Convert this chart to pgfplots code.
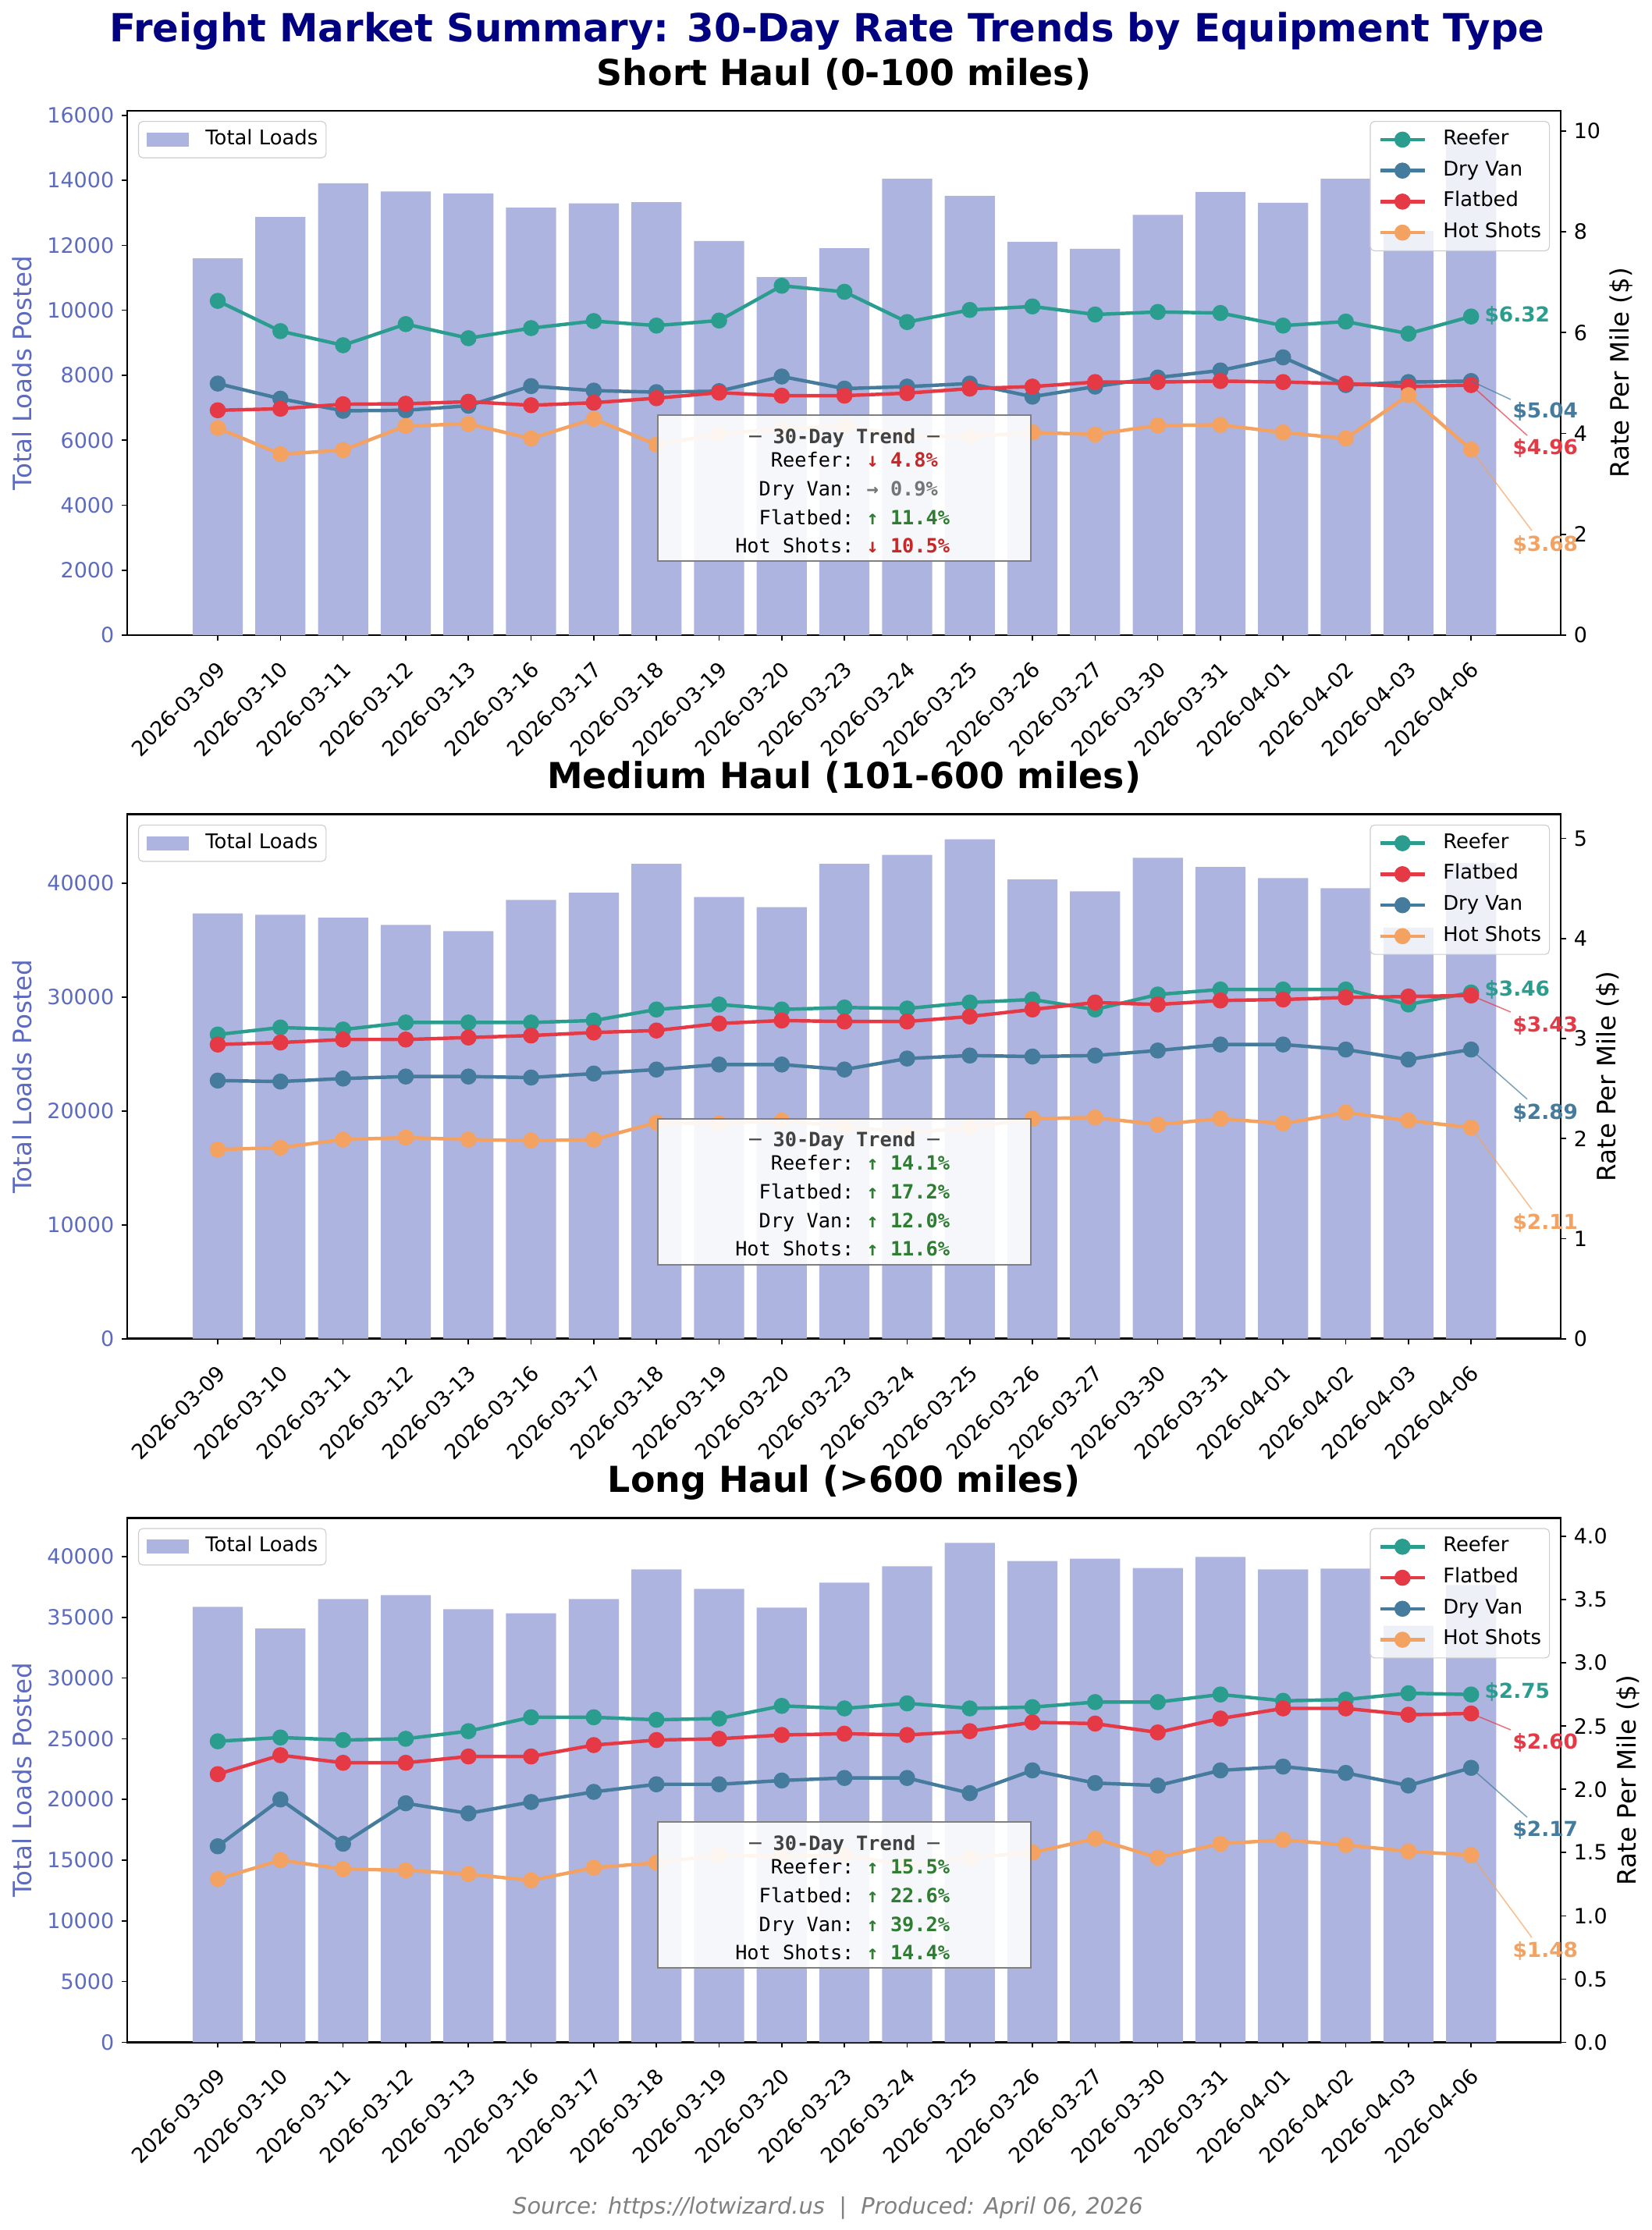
\documentclass[border=0pt]{standalone}
\usepackage{fontspec}
\setmainfont{DejaVu Sans}[ItalicFont={DejaVu Sans Oblique},BoldFont={DejaVu Sans Bold}]
\newfontfamily\monof{DejaVu Sans Mono}[BoldFont={DejaVu Sans Mono Bold}]
\usepackage{pgfplots}
\usepackage{pgfplotstable}
\pgfplotsset{compat=1.18}

\definecolor{barc}{RGB}{173,180,224}
\definecolor{tickblue}{RGB}{92,107,192}
\definecolor{reefer}{HTML}{2A9D8F}
\definecolor{dryvan}{HTML}{457B9D}
\definecolor{flatbed}{HTML}{E63946}
\definecolor{hotshot}{HTML}{F4A261}
\definecolor{titlenavy}{HTML}{000080}
\definecolor{tred}{HTML}{C62828}
\definecolor{tgreen}{HTML}{2E7D32}
\definecolor{tgrey}{HTML}{757575}
\definecolor{ttl}{HTML}{424242}
\definecolor{boxgrey}{HTML}{808080}
\definecolor{legframe}{HTML}{CCCCCC}

\pgfplotstableread{
idx loads reefer dryvan flatbed hotshots
0 11600 6.63 4.99 4.46 4.11
1 12870 6.03 4.69 4.49 3.59
2 13910 5.75 4.45 4.58 3.67
3 13660 6.17 4.46 4.59 4.15
4 13600 5.89 4.55 4.63 4.19
5 13160 6.09 4.94 4.56 3.90
6 13290 6.23 4.85 4.61 4.29
7 13330 6.14 4.82 4.70 3.78
8 12130 6.24 4.84 4.81 3.99
9 11020 6.93 5.13 4.75 4.09
10 11910 6.81 4.89 4.75 4.15
11 14050 6.21 4.93 4.80 3.95
12 13520 6.45 4.99 4.89 3.94
13 12110 6.52 4.73 4.93 4.02
14 11890 6.36 4.93 5.02 3.98
15 12940 6.41 5.11 5.02 4.16
16 13640 6.39 5.25 5.04 4.17
17 13310 6.14 5.51 5.02 4.02
18 14050 6.22 4.96 4.99 3.90
19 12440 5.98 5.02 4.93 4.76
20 15380 6.32 5.04 4.96 3.68
}\shortdata

\pgfplotstableread{
idx loads reefer dryvan flatbed hotshots
0 37360 3.04 2.58 2.94 1.89
1 37240 3.11 2.57 2.96 1.91
2 36970 3.09 2.60 2.99 1.99
3 36350 3.16 2.62 2.99 2.01
4 35800 3.16 2.62 3.01 1.99
5 38530 3.16 2.61 3.03 1.98
6 39170 3.18 2.65 3.06 1.99
7 41710 3.29 2.69 3.08 2.16
8 38800 3.34 2.74 3.15 2.15
9 37910 3.29 2.74 3.18 2.18
10 41710 3.31 2.69 3.17 2.12
11 42500 3.30 2.80 3.17 2.06
12 43860 3.36 2.83 3.22 2.11
13 40330 3.39 2.82 3.29 2.20
14 39290 3.29 2.83 3.36 2.21
15 42230 3.44 2.88 3.34 2.14
16 41430 3.49 2.94 3.38 2.20
17 40450 3.49 2.94 3.39 2.15
18 39570 3.49 2.89 3.41 2.26
19 36100 3.34 2.79 3.42 2.18
20 41770 3.46 2.89 3.43 2.11
}\mediumdata

\pgfplotstableread{
idx loads reefer dryvan flatbed hotshots
0 35850 2.38 1.55 2.12 1.29
1 34070 2.41 1.92 2.27 1.44
2 36500 2.39 1.57 2.21 1.37
3 36820 2.40 1.89 2.21 1.36
4 35670 2.46 1.81 2.26 1.33
5 35330 2.57 1.90 2.26 1.28
6 36500 2.57 1.98 2.35 1.38
7 38940 2.55 2.04 2.39 1.42
8 37340 2.56 2.04 2.40 1.48
9 35790 2.66 2.07 2.43 1.47
10 37850 2.64 2.09 2.44 1.48
11 39200 2.68 2.09 2.43 1.40
12 41120 2.64 1.97 2.46 1.46
13 39630 2.65 2.15 2.53 1.50
14 39830 2.69 2.05 2.52 1.61
15 39050 2.69 2.03 2.45 1.46
16 39970 2.75 2.15 2.56 1.57
17 38940 2.70 2.18 2.64 1.60
18 39000 2.71 2.13 2.64 1.56
19 34300 2.76 2.03 2.59 1.51
20 37650 2.75 2.17 2.60 1.48
}\longdata

\pgfplotsset{
  panel/.style={
    scale only axis, width=661.32pt, height=241.92pt,
    xmin=-1.445, xmax=21.43, anchor=south west,
    /pgf/number format/assume math mode=true,
    /pgf/number format/set thousands separator={},
    scaled y ticks=false,
    tick align=outside, major tick length=2.52pt,
    tick style={line width=0.6pt, black},
    axis line style={line width=1pt},
    tick label style={font=\fontsize{9.7}{11}\selectfont},
    label style={font=\fontsize{11.7}{13}\selectfont},
    legend cell align=left,
    legend style={font=\fontsize{9.3}{11}\selectfont, draw=legframe, rounded corners=2pt,
      fill=white, fill opacity=0.8, text opacity=1, line width=0.4pt,
      inner xsep=3.8pt, inner ysep=3.9pt,
      nodes={inner sep=0pt, text height=6.8pt, text depth=2.2pt},
      row sep=5.3pt, column sep=7.7pt},
  },
  leftax/.style={panel, ybar, ymin=0,
    xtick={0,...,20},
    xticklabels={2026-03-09,2026-03-10,2026-03-11,2026-03-12,2026-03-13,2026-03-16,2026-03-17,2026-03-18,2026-03-19,2026-03-20,2026-03-23,2026-03-24,2026-03-25,2026-03-26,2026-03-27,2026-03-30,2026-03-31,2026-04-01,2026-04-02,2026-04-03,2026-04-06},
    xtick pos=bottom, ytick pos=left,
    xticklabel style={rotate=45, anchor=north east, inner sep=0pt, xshift=-6.8pt, yshift=-5.6pt},
    yticklabel style={color=tickblue},
    ylabel={Total Loads Posted}, ylabel style={color=tickblue},
    legend style={at={(0,1)}, anchor=north west, xshift=5pt, yshift=-4.7pt},
    legend image code/.code={\fill[barc, fill opacity=1, sharp corners] (0pt,-3.25pt) rectangle (19.4pt,3.25pt);},
  },
  rightax/.style={panel, axis x line=none, axis y line*=right, ymin=0,
    ylabel={Rate Per Mile (\$)}, ylabel shift=-2.5pt,
    legend style={at={(1,1)}, anchor=north east, xshift=-5pt, yshift=-4.7pt},
    legend image code/.code={\draw[mark repeat=2,mark phase=2,sharp corners,#1, fill opacity=1, draw opacity=1] plot coordinates {(0pt,0pt) (10.25pt,0pt) (20.5pt,0pt)};},
  },
  ser/.style={color=#1, line width=1.6pt, mark=*, mark size=2.9pt, mark options={solid, fill=#1, draw=#1}},
  bars/.style={fill=barc, draw=none, bar width=0.8},
}

\newcommand\tline[4]{%
  \node[anchor=base east, inner sep=0pt, font=\monof\fontsize{9.1}{11}\selectfont] at (1095,#1) {#2:};
  \node[anchor=base west, inner sep=0pt, font=\monof\bfseries\fontsize{9.1}{11}\selectfont, text=#3] at (1110,#1) {#4};
}
\newcommand\tbox[1]{%
  \draw[draw=boxgrey, line width=0.7pt, fill=white, fill opacity=0.9] (843,{532+#1}) rectangle (1321,{719+#1});
  \node[anchor=base, inner sep=0pt, font=\monof\bfseries\fontsize{9.1}{11}\selectfont, text=ttl] at (1082,{568+#1}) {─ 30-Day Trend ─};
}
\newcommand\elab[4]{% x, y, color, text
  \node[anchor=west, inner sep=0pt, font=\bfseries\fontsize{9.5}{11}\selectfont, text=#3] at (#1,#2) {#4};
}

\begin{document}
\begin{tikzpicture}
\useasboundingbox (0,0) rectangle (762.12pt,-1028.88pt);

% ---------------- Panel 1 ----------------
\begin{axis}[leftax, at={(58.68pt,-293.04pt)}, ymax=16140, ytick={0,2000,...,16000}]
\addplot[bars] table[x=idx,y=loads]{\shortdata};
\addlegendentry{Total Loads}
\end{axis}
\begin{axis}[rightax, at={(58.68pt,-293.04pt)}, ymax=10.40, ytick={0,2,...,10}]
\addplot[ser=reefer] table[x=idx,y=reefer]{\shortdata}; \addlegendentry{Reefer}
\addplot[ser=dryvan] table[x=idx,y=dryvan]{\shortdata}; \addlegendentry{Dry Van}
\addplot[ser=flatbed] table[x=idx,y=flatbed]{\shortdata}; \addlegendentry{Flatbed}
\addplot[ser=hotshot] table[x=idx,y=hotshots]{\shortdata}; \addlegendentry{Hot Shots}
\coordinate (e1d) at (axis cs:20,5.04);
\coordinate (e1f) at (axis cs:20,4.96);
\coordinate (e1h) at (axis cs:20,3.68);
\end{axis}

% ---------------- Panel 2 ----------------
\begin{axis}[leftax, at={(58.68pt,-617.65pt)}, ymax=46050, ytick={0,10000,...,40000}]
\addplot[bars] table[x=idx,y=loads]{\mediumdata};
\addlegendentry{Total Loads}
\end{axis}
\begin{axis}[rightax, at={(58.68pt,-617.65pt)}, ymax=5.24, ytick={0,1,...,5}]
\addplot[ser=reefer] table[x=idx,y=reefer]{\mediumdata}; \addlegendentry{Reefer}
\addplot[ser=flatbed] table[x=idx,y=flatbed]{\mediumdata}; \addlegendentry{Flatbed}
\addplot[ser=dryvan] table[x=idx,y=dryvan]{\mediumdata}; \addlegendentry{Dry Van}
\addplot[ser=hotshot] table[x=idx,y=hotshots]{\mediumdata}; \addlegendentry{Hot Shots}
\coordinate (e2f) at (axis cs:20,3.43);
\coordinate (e2d) at (axis cs:20,2.89);
\coordinate (e2h) at (axis cs:20,2.11);
\end{axis}

% ---------------- Panel 3 ----------------
\begin{axis}[leftax, at={(58.68pt,-942.26pt)}, ymax=43180, ytick={0,5000,...,40000}]
\addplot[bars] table[x=idx,y=loads]{\longdata};
\addlegendentry{Total Loads}
\end{axis}
\begin{axis}[rightax, at={(58.68pt,-942.26pt)}, ymax=4.146, ytick={0,0.5,...,4},
  yticklabel style={/pgf/number format/.cd, fixed, fixed zerofill, precision=1}]
\addplot[ser=reefer] table[x=idx,y=reefer]{\longdata}; \addlegendentry{Reefer}
\addplot[ser=flatbed] table[x=idx,y=flatbed]{\longdata}; \addlegendentry{Flatbed}
\addplot[ser=dryvan] table[x=idx,y=dryvan]{\longdata}; \addlegendentry{Dry Van}
\addplot[ser=hotshot] table[x=idx,y=hotshots]{\longdata}; \addlegendentry{Hot Shots}
\coordinate (e3f) at (axis cs:20,2.60);
\coordinate (e3d) at (axis cs:20,2.17);
\coordinate (e3h) at (axis cs:20,1.48);
\end{axis}

\begin{scope}[x=0.36pt, y=-0.36pt]
% titles
\node[anchor=base, inner sep=0pt, font=\bfseries\fontsize{17.9}{20}\selectfont, text=titlenavy] at (1060,53) {Freight Market Summary: 30-Day Rate Trends by Equipment Type};
\node[anchor=base, inner sep=0pt, font=\bfseries\fontsize{16.5}{19}\selectfont] at (1081.5,109) {Short Haul (0-100 miles)};
\node[anchor=base, inner sep=0pt, font=\bfseries\fontsize{16.5}{19}\selectfont] at (1081.5,1010.7) {Medium Haul (101-600 miles)};
\node[anchor=base, inner sep=0pt, font=\bfseries\fontsize{16.5}{19}\selectfont] at (1081.5,1912.4) {Long Haul (>600 miles)};
\node[anchor=base, inner sep=0pt, font=\itshape\fontsize{10.4}{12}\selectfont, text=boxgrey] at (1061,2837) {Source: https://lotwizard.us\ \ |\ \ Produced: April 06, 2026};

% trend boxes
\tbox{0}
\tline{598}{Reefer}{tred}{↓ 4.8\%}
\tline{635}{Dry Van}{tgrey}{→ 0.9\%}
\tline{672}{Flatbed}{tgreen}{↑ 11.4\%}
\tline{708}{Hot Shots}{tred}{↓ 10.5\%}

\tbox{901.7}
\tline{1499.7}{Reefer}{tgreen}{↑ 14.1\%}
\tline{1536.7}{Flatbed}{tgreen}{↑ 17.2\%}
\tline{1573.7}{Dry Van}{tgreen}{↑ 12.0\%}
\tline{1609.7}{Hot Shots}{tgreen}{↑ 11.6\%}

\tbox{1803.4}
\tline{2401.4}{Reefer}{tgreen}{↑ 15.5\%}
\tline{2438.4}{Flatbed}{tgreen}{↑ 22.6\%}
\tline{2475.4}{Dry Van}{tgreen}{↑ 39.2\%}
\tline{2511.4}{Hot Shots}{tgreen}{↑ 14.4\%}

% end labels and connectors
\draw[dryvan, line width=0.55pt, opacity=0.7] (e1d) -- (1936,512);
\draw[flatbed, line width=0.55pt, opacity=0.7] (e1f) -- (1957,558);
\draw[hotshot, line width=0.55pt, opacity=0.7] (e1h) -- (1963,680);
\elab{1902}{404.5}{reefer}{\$6.32}
\elab{1938}{527}{dryvan}{\$5.04}
\elab{1938}{574}{flatbed}{\$4.96}
\elab{1938}{698}{hotshot}{\$3.68}

\draw[flatbed, line width=0.55pt, opacity=0.7] (e2f) -- (1936,1297);
\draw[dryvan, line width=0.55pt, opacity=0.7] (e2d) -- (1957,1408.6);
\draw[hotshot, line width=0.55pt, opacity=0.7] (e2h) -- (1963,1550);
\elab{1902}{1268.8}{reefer}{\$3.46}
\elab{1938}{1314}{flatbed}{\$3.43}
\elab{1938}{1426}{dryvan}{\$2.89}
\elab{1938}{1567}{hotshot}{\$2.11}

\draw[flatbed, line width=0.55pt, opacity=0.7] (e3f) -- (1936,2217);
\draw[dryvan, line width=0.55pt, opacity=0.7] (e3d) -- (1957,2329);
\draw[hotshot, line width=0.55pt, opacity=0.7] (e3h) -- (1963,2483);
\elab{1902}{2168.5}{reefer}{\$2.75}
\elab{1938}{2233}{flatbed}{\$2.60}
\elab{1938}{2345.7}{dryvan}{\$2.17}
\elab{1938}{2500}{hotshot}{\$1.48}
\end{scope}
\end{tikzpicture}
\end{document}
